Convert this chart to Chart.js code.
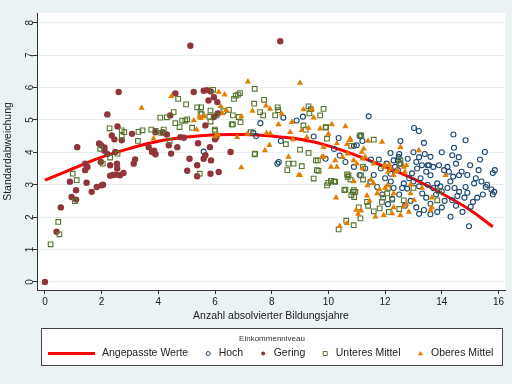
<!DOCTYPE html>
<html>
<head>
<meta charset="utf-8">
<script src="https://cdn.jsdelivr.net/npm/chart.js@4.4.1/dist/chart.umd.min.js"></script>
<style>
html, body { margin: 0; padding: 0; background: #eaf2f3; }
</style>
</head>
<body>
<canvas id="myChart" width="512" height="384"></canvas>
<script>
// Achsen
const xTicks = [0, 2, 4, 6, 8, 10, 12, 14, 16];
const yTicks = [0, 1, 2, 3, 4, 5, 6, 7, 8];

// Angepasste Werte
const fitX = [0, 1, 2, 3, 4, 5, 6, 7, 8, 9, 10, 11, 12, 13, 14, 15, 15.8];
const fitY = [3.14, 3.5, 3.85, 4.12, 4.34, 4.47, 4.54, 4.55, 4.5, 4.4, 4.2, 3.9, 3.55, 3.18, 2.73, 2.22, 1.7];

// Einkommenniveau: Hoch
const hoch = [
  [11.42,5.11],[13.02,4.75],[13.19,4.66],[14.41,4.55],[14.84,4.37],[13.37,4.29],[12.54,4.35],[14.43,4.14],
  [15.52,4.01],[15.35,3.78],[15.87,3.45],[15.8,3.36],[13.6,3.86],[14.37,3.91],[9.48,4.49],[10.36,4.44],
  [8.41,5.07],[8.88,4.98],[11.0,4.22],[10.9,4.2],[8.32,4.35],[12.19,3.98],[12.5,3.95],[12.48,3.85],
  [12.45,3.75],[12.3,3.75],[11.78,3.78],[11.5,3.78],[8.25,3.7],[8.2,3.65],[9.1,5.1],[7.6,4.9],
  [7.35,4.6],[5.6,4.02],[7.45,4.5],[11.2,4.35],[11.1,4.5],
  [13.1,3.7],[13.3,3.6],[13.5,3.6],[13.7,3.55],[13.9,3.6],[14.2,3.55],[14.5,3.65],[14.7,3.4],
  [14.9,3.3],[15.2,3.2],[15.4,3.1],[15.6,3.0],[15.75,2.85],[15.55,2.93],[15.14,3.04],[14.84,2.93],
  [14.61,2.78],[14.61,3.29],[14.4,3.25],[14.25,3.4],[14.08,3.45],[13.84,3.04],[13.95,2.95],[14.2,2.9],
  [13.6,3.29],[13.45,3.4],[13.13,3.5],[12.95,3.35],[12.85,3.2],[12.66,3.04],[12.78,2.88],[12.6,2.9],
  [12.5,2.7],[12.25,2.57],[12.19,3.34],[12.0,3.2],[11.72,2.93],[11.48,3.09],[12.54,3.65],[12.35,3.55],
  [12.45,3.45],[13.55,3.6],[13.0,3.1],[13.2,2.95],[13.31,2.73],[13.45,2.6],[13.6,2.41],[13.37,2.22],
  [13.6,2.09],[13.84,2.16],[14.0,2.3],[14.1,2.5],[14.37,2.52],[14.5,2.35],[14.73,2.16],[14.31,2.01],
  [15.02,2.32],[15.1,2.47],[14.96,1.72],[15.25,2.6],[14.8,2.6],[14.55,2.65],[13.8,2.7],[14.0,2.8],
  [13.7,2.9],[13.5,3.0],[13.25,3.2],[12.9,2.5],[12.7,2.35],[13.1,2.3],[13.2,2.1],[12.1,2.4],
  [11.9,2.7],[12.3,2.9],[12.2,3.1],[11.6,3.3],[11.85,3.5],[12.05,3.65],[12.8,3.8],[13.0,4.0],
  [13.4,3.95],[13.2,3.85],[14.0,4.0],[14.6,3.85],[15.0,3.6],[15.3,3.45],[15.85,2.78],[15.8,2.7],
  [14.3,3.1],[14.45,2.9],[14.9,2.75],[15.45,2.7],[11.3,3.5],[11.1,3.3],[10.9,3.55],[10.6,3.7],
  [10.4,3.9],[9.9,3.8],[10.2,4.1]
];

// Einkommenniveau: Gering
const gering = [
  [5.13,7.29],[8.3,7.43],[2.6,5.86],[5.25,5.86],[5.6,5.9],[5.72,5.92],[5.85,5.88],[4.6,5.82],
  [5.96,5.7],[6.08,5.55],[5.77,5.6],[2.2,5.17],[2.56,4.8],[2.36,4.52],[1.14,4.16],[1.91,4.27],
  [1.98,4.22],[2.1,4.15],[3.07,4.57],[2.71,4.37],[3.9,4.62],[4.15,4.62],[4.3,4.55],[3.66,4.16],
  [3.78,4.01],[3.9,3.94],[4.37,4.22],[4.67,4.16],[4.78,4.47],[4.45,3.96],[2.48,4.01],[2.54,3.65],
  [2.3,3.6],[2.5,3.31],[2.3,3.28],[2.4,3.3],[2.65,3.29],[2.77,3.36],[1.97,3.7],[1.42,3.65],
  [1.42,3.45],[1.5,3.55],[1.83,2.93],[1.65,2.78],[1.47,3.06],[2.0,2.98],[2.05,3.0],[0.94,2.62],
  [0.88,3.09],[3.13,3.65],[3.18,3.78],[5.02,3.43],[5.1,3.8],[5.37,3.6],[5.37,3.26],[5.6,3.8],
  [5.66,3.91],[5.82,4.16],[5.86,3.75],[5.84,3.34],[6.13,3.39],[6.05,4.47],[5.4,4.28],[6.55,4.01],
  [5.66,4.83],[4.42,5.14],[5.96,5.09],[0,0],[0.41,1.55],[0.56,2.3],[1.1,2.54],[1.1,2.83],
  [2.1,4.05],[2.2,3.95],[2.45,4.4],[3.85,4.05],[6.0,4.4],[6.1,5.2],[4.9,4.45],[2.55,3.5]
];

// Einkommenniveau: Unteres Mittel
const unteresMittel = [
  [0.98,3.34],[1.12,3.14],[1.95,4.11],[2.04,3.65],[2.28,4.74],[2.3,3.84],[2.56,3.96],[2.71,4.5],
  [2.71,4.68],[2.8,4.62],[3.28,4.35],[3.3,4.63],[3.44,4.68],[3.75,4.7],[3.9,4.66],[4.19,4.7],
  [4.1,4.6],[4.4,4.35],[4.07,5.07],[4.3,5.08],[4.54,5.24],[4.7,5.65],[4.6,4.9],[4.75,4.78],
  [4.84,4.98],[5.02,5.02],[4.98,5.48],[5.37,5.39],[5.51,5.39],[5.19,4.76],[5.49,5.2],[5.84,5.29],
  [5.8,5.1],[5.84,4.95],[5.93,5.93],[5.99,4.7],[6.05,5.14],[6.29,5.27],[6.49,5.31],[6.67,5.65],
  [6.73,5.75],[6.81,5.78],[6.88,5.83],[6.63,4.86],[6.63,5.14],[6.84,5.09],[6.9,4.93],[7.26,4.62],
  [7.4,5.96],[7.38,5.5],[7.4,3.94],[5.46,3.34],[0.47,1.85],[0.51,1.47],[0.2,1.16],[1.06,2.49],
  [7.73,5.62],[7.59,5.24],[7.7,5.14],[8.21,5.39],[8.23,5.3],[8.12,5.14],[9.3,5.42],[9.38,5.33],
  [9.33,5.2],[9.83,5.34],[9.71,5.14],[9.92,4.78],[9.12,4.83],[9.2,4.7],[11.13,4.52],[9.95,4.42],
  [8.5,4.25],[9.0,4.08],[9.3,3.98],[9.63,3.75],[8.59,3.65],[8.77,3.65],[8.55,3.45],[9.06,3.57],
  [9.65,3.43],[9.48,3.19],[10.0,3.06],[10.24,3.09],[10.1,3.12],[10.66,3.32],[10.78,3.16],[10.6,2.85],
  [10.9,2.83],[11.22,3.55],[11.6,4.39],[10.8,4.2],[11.16,4.52],[12.54,3.75],[12.5,3.65],
  [10.36,1.62],[10.63,1.89],[10.89,1.75],[9.95,2.98],[10.09,3.12],[10.2,3.1],[10.56,2.83],[10.81,2.68],
  [10.95,2.78],[10.71,3.29],[11.07,2.3],[11.13,1.96],[11.36,2.47],[11.4,2.35],[11.6,2.18],[11.81,2.27],
  [11.89,2.47],[11.93,2.6],[12.13,2.16],[12.25,2.54],[12.07,2.73],[12.66,2.52],[13.84,2.52],[11.22,3.16],
  [9.59,3.45],[9.9,4.76],[9.56,3.75],[10.68,3.24],[11.15,3.29],[10.86,2.78],[10.91,2.62],[13.9,2.8],
  [12.5,2.25],[12.1,2.9],[13.0,2.9],[4.95,4.98],[5.53,5.17],[6.59,4.86],[6.0,4.66],[7.41,3.96]
];

// Einkommenniveau: Oberes Mittel
const oberesMittel = [
  [3.41,5.37],[4.46,5.73],[5.25,4.98],[5.35,4.7],[5.63,5.11],[3.83,4.42],[6.13,5.86],[6.34,5.78],
  [6.2,5.42],[6.26,5.2],[6.02,4.49],[6.78,4.47],[6.93,3.53],[6.93,5.11],[7.16,6.18],[7.32,5.28],
  [7.14,4.57],[5.45,5.1],[5.5,5.05],[6.4,5.3],[6.1,4.55],
  [9.0,6.14],[7.94,5.34],[7.8,5.44],[8.35,5.19],[8.24,4.86],[8.71,4.93],[9.12,5.32],[9.48,5.07],
  [9.42,5.32],[9.06,4.68],[9.3,4.75],[9.71,4.73],[10.12,4.86],[10.6,4.8],[10.0,4.57],[7.82,4.59],
  [7.95,4.58],[7.92,4.22],[7.76,4.06],[8.65,4.62],[8.75,4.4],[9.24,4.47],[9.83,4.16],[10.3,4.27],
  [10.66,4.25],[10.77,4.37],[11.89,4.32],[12.54,4.16],[13.19,4.06],[11.4,4.35],[11.25,4.11],[9.83,3.86],
  [10.24,3.75],[10.5,3.85],[10.89,3.75],[10.3,3.55],[9.0,3.29],[8.59,3.86],[11.2,3.8],[11.6,3.65],
  [12.01,3.6],[12.2,3.5],[12.42,3.45],[12.66,3.55],[12.75,3.6],[12.7,3.4],
  [10.27,2.6],[10.4,1.72],[10.65,1.81],[10.98,2.22],[11.15,2.2],[11.05,2.1],[11.36,2.66],[11.72,2.73],
  [11.66,2.01],[11.95,2.06],[12.25,2.11],[12.3,2.3],[12.54,2.06],[12.66,2.32],[12.84,2.16],[12.75,2.4],
  [12.9,2.73],[13.02,2.52],[13.6,2.22],[13.65,2.3],[11.6,3.04],[11.5,3.15],[12.3,3.29],[12.1,3.4],
  [12.4,3.4],[14.13,3.29],[11.3,3.86],[11.0,3.65],[11.2,3.5],[10.9,3.1],[11.8,2.85],[12.0,2.9],
  [12.9,3.0],[13.3,2.9],[11.45,2.5],[13.65,2.6],[10.77,4.42],[10.68,3.96],[11.18,4.01],[9.77,3.86],
  [8.95,3.29],[10.09,3.55],[11.38,2.98],[12.08,2.98],[12.3,2.73],[11.95,3.55],[12.15,3.62]
];

const toPoints = arr => arr.map(p => ({ x: p[0], y: p[1] }));
const FONT = "'Liberation Sans', Arial, Helvetica, sans-serif";

const colHoch = '#1a476f';
const colGering = '#90353b';
const colUnteres = '#55752f';
const colOberes = '#e37e00';
const colFit = '#ff0000';

// Hintergrund: grau-blau aussen, weiss im Plotbereich
const bgPlugin = {
  id: 'bg',
  beforeDraw(chart) {
    const ctx = chart.ctx, a = chart.chartArea;
    ctx.save();
    ctx.fillStyle = '#eaf2f3';
    ctx.fillRect(0, 0, chart.width, chart.height);
    ctx.fillStyle = '#ffffff';
    ctx.fillRect(a.left, a.top, a.right - a.left, a.bottom - a.top);
    ctx.restore();
  }
};

// Legende im Stata-Stil (Kasten mit Titel)
const legendPlugin = {
  id: 'stataLegend',
  afterDraw(chart) {
    const ctx = chart.ctx;
    const bx = 41.5, by = 328.5, bw = 461, bh = 37;
    ctx.save();
    ctx.fillStyle = '#ffffff';
    ctx.fillRect(bx, by, bw, bh);
    ctx.strokeStyle = '#444';
    ctx.lineWidth = 1;
    ctx.strokeRect(bx, by, bw, bh);

    ctx.fillStyle = '#333';
    ctx.font = '8px ' + FONT;
    ctx.textAlign = 'center';
    ctx.textBaseline = 'middle';
    ctx.fillText('Einkommenniveau', bx + bw / 2, 339);

    const y = 353.5;
    ctx.font = '10.5px ' + FONT;
    ctx.textAlign = 'left';
    let x = 48;
    chart.data.datasets.forEach((ds, i) => {
      if (i === 0) {
        ctx.strokeStyle = ds.borderColor;
        ctx.lineWidth = 3;
        ctx.beginPath();
        ctx.moveTo(x, y);
        ctx.lineTo(x + 47, y);
        ctx.stroke();
        x += 54;
      } else {
        const mx = x + 20;
        const st = ds.pointStyle;
        ctx.beginPath();
        if (st === 'circle') {
          ctx.arc(mx, y, 2, 0, Math.PI * 2);
        } else if (st === 'rect') {
          ctx.rect(mx - 2, y - 2, 4, 4);
        } else {
          ctx.moveTo(mx, y - 2.6);
          ctx.lineTo(mx + 2.6, y + 1.8);
          ctx.lineTo(mx - 2.6, y + 1.8);
          ctx.closePath();
        }
        if (ds.backgroundColor === 'transparent') {
          ctx.strokeStyle = ds.borderColor;
          ctx.lineWidth = 1;
          ctx.stroke();
        } else {
          ctx.fillStyle = ds.backgroundColor;
          ctx.fill();
        }
        x = mx + 10.5;
      }
      ctx.fillStyle = '#222';
      ctx.fillText(ds.label, x, y);
      x += ctx.measureText(ds.label).width;
    });
    ctx.restore();
  }
};

const ctx = document.getElementById('myChart').getContext('2d');

new Chart(ctx, {
  type: 'scatter',
  data: {
    datasets: [
      {
        label: 'Angepasste Werte',
        data: fitX.map((x, i) => ({ x: x, y: fitY[i] })),
        showLine: true,
        borderColor: colFit,
        backgroundColor: colFit,
        borderWidth: 3,
        pointRadius: 0,
        tension: 0.4,
        order: 5
      },
      {
        label: 'Hoch',
        data: toPoints(hoch),
        pointStyle: 'circle',
        pointRadius: 2.5,
        borderColor: colHoch,
        backgroundColor: 'transparent',
        borderWidth: 1.1,
        order: 4
      },
      {
        label: 'Gering',
        data: toPoints(gering),
        pointStyle: 'circle',
        pointRadius: 3.2,
        borderWidth: 0,
        borderColor: colGering,
        backgroundColor: colGering,
        order: 3
      },
      {
        label: 'Unteres Mittel',
        data: toPoints(unteresMittel),
        pointStyle: 'rect',
        pointRadius: 3.3,
        borderColor: colUnteres,
        backgroundColor: 'transparent',
        borderWidth: 1.1,
        order: 2
      },
      {
        label: 'Oberes Mittel',
        data: toPoints(oberesMittel),
        pointStyle: 'triangle',
        pointRadius: 3.6,
        borderWidth: 0,
        borderColor: colOberes,
        backgroundColor: colOberes,
        order: 1
      }
    ]
  },
  options: {
    responsive: false,
    animation: false,
    layout: { padding: { left: 0, right: 7, top: 13, bottom: 62 } },
    scales: {
      x: {
        type: 'linear',
        min: -0.28,
        max: 16.23,
        afterBuildTicks: scale => { scale.ticks = xTicks.map(v => ({ value: v })); },
        afterFit: scale => { scale.height = 32; },
        border: { display: true, color: '#333', width: 1 },
        grid: { drawOnChartArea: false, drawTicks: true, tickLength: 4, tickColor: '#333' },
        ticks: { color: '#222', font: { family: FONT, size: 10 }, padding: 2, maxRotation: 0 },
        title: {
          display: true,
          text: 'Anzahl absolvierter Bildungsjahre',
          color: '#222',
          font: { family: FONT, size: 10.5 },
          padding: { top: 0, bottom: 0 }
        }
      },
      y: {
        type: 'linear',
        min: -0.25,
        max: 8.3,
        afterBuildTicks: scale => { scale.ticks = yTicks.map(v => ({ value: v })); },
        afterFit: scale => { scale.width = 37; },
        border: { display: true, color: '#333', width: 1 },
        grid: { color: '#e8eff1', lineWidth: 1, drawTicks: true, tickLength: 4, tickColor: '#333' },
        ticks: {
          color: '#222',
          font: { family: FONT, size: 10 },
          padding: 0,
          minRotation: 90,
          maxRotation: 90,
          crossAlign: 'center'
        },
        title: {
          display: true,
          text: 'Standardabweichung',
          color: '#222',
          font: { family: FONT, size: 10.5 },
          padding: { top: 2, bottom: 0 }
        }
      }
    },
    plugins: {
      legend: { display: false },
      tooltip: { enabled: false }
    }
  },
  plugins: [bgPlugin, legendPlugin]
});
</script>
</body>
</html>
